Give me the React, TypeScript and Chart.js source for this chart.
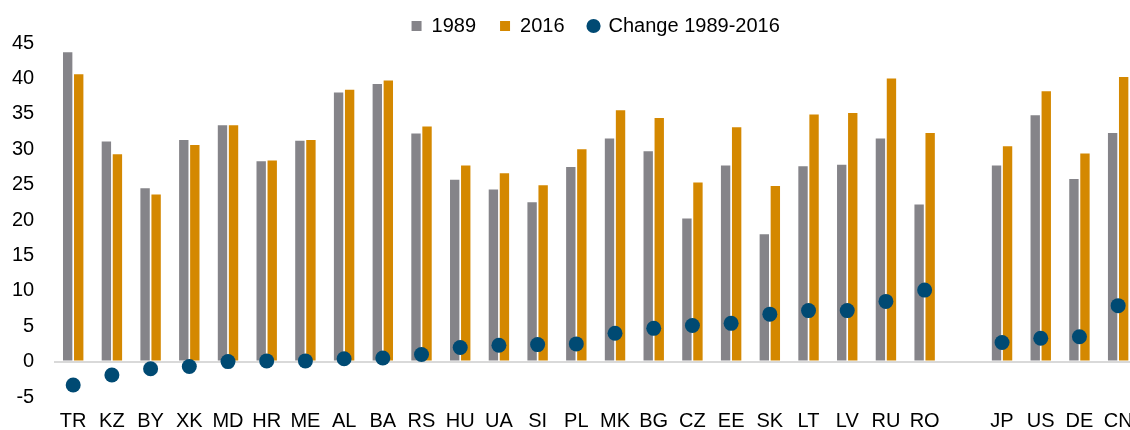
import React, { useEffect, useRef } from 'react';
import { Chart, registerables } from 'chart.js';

Chart.register(...registerables);

const categories = ['TR', 'KZ', 'BY', 'XK', 'MD', 'HR', 'ME', 'AL', 'BA', 'RS', 'HU', 'UA', 'SI', 'PL', 'MK', 'BG', 'CZ', 'EE', 'SK', 'LT', 'LV', 'RU', 'RO', '', 'JP', 'US', 'DE', 'CN'];
const values1989 = [43.7, 31.1, 24.5, 31.3, 33.4, 28.3, 31.2, 38.0, 39.2, 32.2, 25.7, 24.3, 22.5, 27.5, 31.5, 29.7, 20.2, 27.7, 18.0, 27.6, 27.8, 31.5, 22.2, null, 27.7, 34.8, 25.8, 32.3];
const values2016 = [40.6, 29.3, 23.6, 30.6, 33.4, 28.4, 31.3, 38.4, 39.7, 33.2, 27.7, 26.6, 24.9, 30.0, 35.5, 34.4, 25.3, 33.1, 24.8, 34.9, 35.1, 40.0, 32.3, null, 30.4, 38.2, 29.4, 40.2];
const change19892016 = [-3.3, -1.9, -1.0, -0.7, 0.0, 0.1, 0.1, 0.4, 0.5, 1.0, 2.0, 2.3, 2.4, 2.5, 4.0, 4.7, 5.1, 5.4, 6.7, 7.2, 7.2, 8.5, 10.1, null, 2.7, 3.3, 3.5, 7.9];
const seriesNames = ['1989', '2016', 'Change 1989-2016'];
const yMin = -5;
const yMax = 45;
const yStep = 5;

const GRAY = '#858489';
const ORANGE = '#D48800';
const BLUE = '#004A73';
const FONT = "'Liberation Sans', Arial, sans-serif";

export default function App() {
  const canvasRef = useRef<HTMLCanvasElement | null>(null);

  useEffect(() => {
    if (!canvasRef.current) return;
    const chart = new Chart(canvasRef.current, {
      type: 'bar',
      data: {
        labels: categories,
        datasets: [
          {
            type: 'line',
            label: seriesNames[2],
            data: change19892016,
            showLine: false,
            pointStyle: 'circle',
            pointRadius: 7.5,
            pointHoverRadius: 7.5,
            pointBorderWidth: 0,
            pointBackgroundColor: BLUE,
            backgroundColor: BLUE,
            borderColor: BLUE,
            order: -1,
          } as any,
          {
            type: 'bar',
            label: seriesNames[0],
            data: values1989,
            backgroundColor: GRAY,
            borderWidth: 0,
            pointStyle: 'rect',
            categoryPercentage: 0.57,
            barPercentage: 0.85,
            order: 1,
          } as any,
          {
            type: 'bar',
            label: seriesNames[1],
            data: values2016,
            backgroundColor: ORANGE,
            borderWidth: 0,
            pointStyle: 'rect',
            categoryPercentage: 0.57,
            barPercentage: 0.85,
            order: 1,
          } as any,
        ],
      },
      options: {
        responsive: false,
        animation: false,
        devicePixelRatio: 1,
        layout: { padding: { top: -8, left: -7.6, right: 3, bottom: 0 } },
        plugins: {
          tooltip: { enabled: false },
          legend: {
            position: 'top',
            fullSize: false,
            maxHeight: 51,
            labels: {
              usePointStyle: true,
              boxWidth: 10,
              boxHeight: 10,
              padding: 24,
              color: '#000',
              font: { family: FONT, size: 20 },
              sort: (a: any, b: any) => {
                const order = [1, 2, 0];
                return order.indexOf(a.datasetIndex) - order.indexOf(b.datasetIndex);
              },
            },
          } as any,
        },
        scales: {
          x: {
            offset: true,
            grid: { display: false, drawTicks: false },
            border: { display: false },
            ticks: {
              color: '#000',
              font: { family: FONT, size: 20 },
              padding: 12,
              maxRotation: 0,
              autoSkip: false,
            },
          },
          y: {
            min: yMin,
            max: yMax,
            border: { display: false },
            grid: {
              drawTicks: false,
              color: (ctx: any) => (ctx.tick && ctx.tick.value === 0 ? '#D9D9D9' : 'rgba(0,0,0,0)'),
              lineWidth: 2,
            },
            ticks: {
              stepSize: yStep,
              color: '#000',
              font: { family: FONT, size: 20 },
              padding: 19.6,
            },
          },
        },
      } as any,
    });
    return () => chart.destroy();
  }, []);

  return (
    <div style={{ position: 'fixed', left: 0, top: 0, width: 1130, height: 430, overflow: 'hidden', background: '#fff' }}>
      <canvas ref={canvasRef} width={1145} height={445} style={{ display: 'block' }} />
    </div>
  );
}
